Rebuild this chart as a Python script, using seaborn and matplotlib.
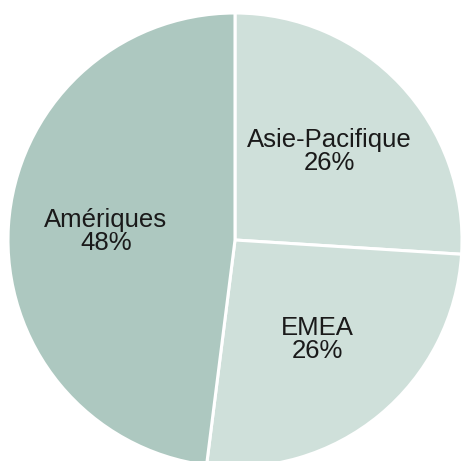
import matplotlib
matplotlib.use('Agg')
import matplotlib.pyplot as plt
import seaborn as sns

# Data
regions = ['Asie-Pacifique', 'EMEA', 'Amériques']
shares = [26, 26, 48]
colors = ['#cfe0da', '#cfe0da', '#adc8c0']

sns.set_theme(style='white')
plt.rcParams['font.family'] = ['Liberation Sans', 'DejaVu Sans']

fig = plt.figure(figsize=(4.61, 4.61), dpi=100)
# pie centre at (235, 240) px, radius ~227 px
cx, cy, r = 235 / 461, (461 - 240) / 461, 227 / 461
ax = fig.add_axes([cx - r, cy - r, 2 * r, 2 * r])

labels_iter = iter(regions)


def fmt(pct):
    return '{}\n{:.0f}%'.format(next(labels_iter), pct)


wedges, texts, autotexts = ax.pie(
    shares, colors=colors, startangle=90, counterclock=False,
    autopct=fmt, pctdistance=0.57,
    wedgeprops=dict(edgecolor='white', linewidth=2.2),
    textprops=dict(fontsize=18.5, color='#1a1a1a', linespacing=0.95),
)
ax.set_xlim(-1, 1)
ax.set_ylim(-1, 1)
ax.set_aspect('equal')
ax.axis('off')

fig.savefig('out.png', dpi=100)
